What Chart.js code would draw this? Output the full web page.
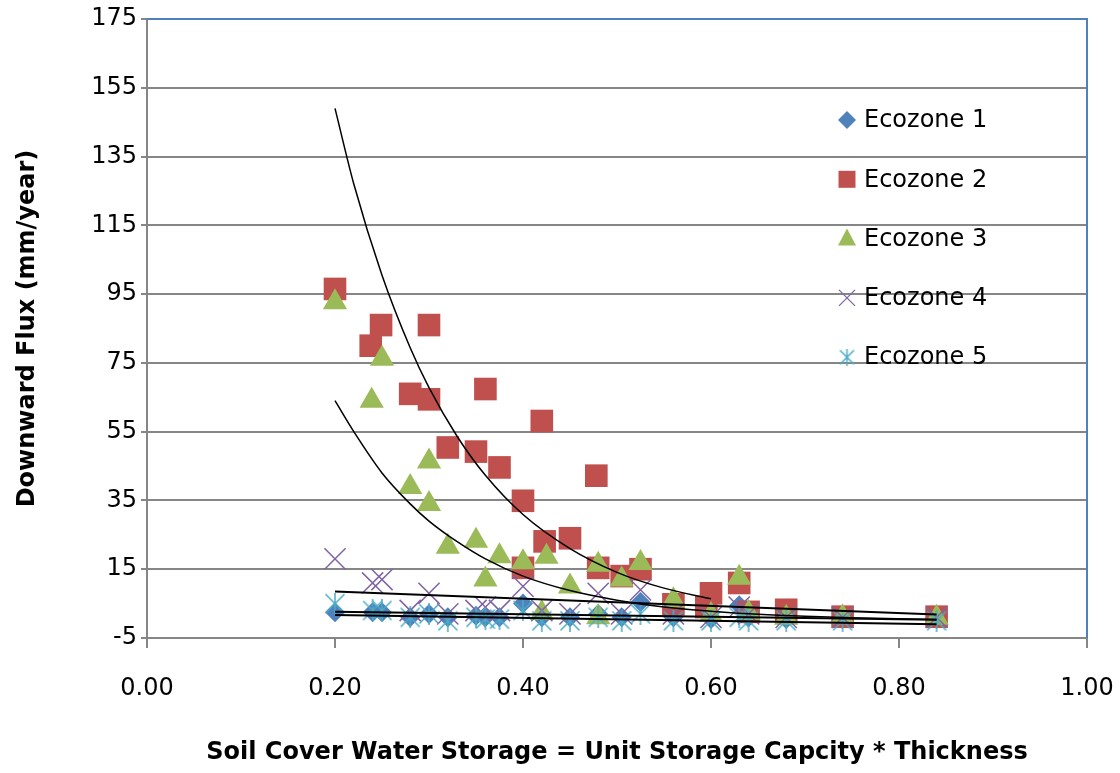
<!DOCTYPE html>
<html>
<head>
<meta charset="utf-8">
<title>Downward Flux vs Soil Cover Water Storage</title>
<script src="https://cdn.jsdelivr.net/npm/chart.js@4.4.1/dist/chart.umd.min.js"></script>
<style>
  html, body { margin: 0; padding: 0; background: #fff; }
  #wrap { width: 1120px; height: 773px; }
</style>
</head>
<body>
<div id="wrap"><canvas id="fluxChart" width="1120" height="773"></canvas></div>
<script>
// Số liệu
const seriesNames = ['Ecozone 1', 'Ecozone 2', 'Ecozone 3', 'Ecozone 4', 'Ecozone 5'];

// Ecozone 1, 4, 5 dùng chung các giá trị x
const sharedX = [0.20, 0.24, 0.25, 0.28, 0.30, 0.32, 0.35, 0.36, 0.375, 0.40, 0.42,
                 0.45, 0.48, 0.505, 0.525, 0.56, 0.60, 0.63, 0.64, 0.68, 0.74, 0.84];
const eco1Y = [2.5, 2.5, 2.5, 1, 2, 1, 1.5, 1, 1, 5, 1, 1, 2, 1, 5.5, 1, 0.5, 4.5, 1, 0.5, 0.5, 0.5];
const eco4Y = [18, 11, 12, 3, 8, 2, 3, 4, 3, 10, 3, 2, 8, 2, 9, 2, 1, 4, 2, 1, 1, 1];
const eco5Y = [5, 3, 3, 1, 2, 0, 1, 0.5, 0.5, 3, 0, 0, 1, 0, 2, 0, 0, 1, 0, 0, 0, 0];

const eco2X = [0.20, 0.238, 0.249, 0.28, 0.30, 0.30, 0.32, 0.35, 0.36, 0.375, 0.40, 0.40, 0.42, 0.423,
               0.45, 0.478, 0.48, 0.505, 0.525, 0.56, 0.60, 0.595, 0.63, 0.64, 0.68, 0.74, 0.84];
const eco2Y = [96.5, 80, 86, 66, 86, 64.4, 50.4, 49.2, 67.4, 44.6, 34.9, 15.4, 58.1, 23.1,
               24, 42.2, 15.4, 13, 15, 4.8, 8, 4, 11, 2.6, 3.2, 1.2, 1.2];

const eco3X = [0.20, 0.239, 0.25, 0.28, 0.30, 0.30, 0.32, 0.35, 0.36, 0.375, 0.40, 0.42, 0.425,
               0.45, 0.48, 0.48, 0.505, 0.525, 0.56, 0.60, 0.63, 0.64, 0.68, 0.74, 0.84];
const eco3Y = [92.6, 64, 76.2, 38.9, 46.3, 34, 21.5, 23.3, 12, 18.8, 17, 2.3, 18.6,
               10, 16.3, 1, 12, 16.8, 6, 1.7, 12.5, 2.3, 0.9, 1, 0.9];

// Đường xu hướng (đọc theo các điểm trên đường cong)
const trend2X = [0.20, 0.22, 0.25, 0.28, 0.30, 0.33, 0.36, 0.40, 0.45, 0.50, 0.55, 0.60];
const trend2Y = [149, 127, 100.5, 79.4, 67.8, 53.6, 42.3, 30.9, 21, 14.1, 9.5, 6.4];
const trend3X = [0.20, 0.22, 0.25, 0.28, 0.30, 0.33, 0.36, 0.40, 0.45, 0.50, 0.55, 0.60, 0.65, 0.70, 0.75, 0.84];
const trend3Y = [64, 55, 43, 34, 29, 23, 18, 13, 8.8, 6, 4, 2.8, 1.9, 1.3, 0.9, 0.4];
const trend1X = [0.20, 0.84];
const trend1Y = [2.6, 0.3];
const trend4X = [0.20, 0.84];
const trend4Y = [8.5, 1.8];
const trend5X = [0.20, 0.84];
const trend5Y = [1.7, -1.0];

const xTickValues = [0, 0.2, 0.4, 0.6, 0.8, 1.0];
const yTickValues = [-5, 15, 35, 55, 75, 95, 115, 135, 155, 175];

const colors = ['#4F81BD', '#C0504D', '#9BBB59', '#8064A2', '#4BACC6'];

function toPoints(xs, ys) {
    return xs.map((x, i) => ({ x: x, y: ys[i] }));
}

// Ký hiệu dấu sao (X + nét dọc) như Excel
function makeAsterisk(size, color) {
    const c = document.createElement('canvas');
    c.width = size;
    c.height = size;
    const g = c.getContext('2d');
    g.strokeStyle = color;
    g.lineWidth = 1.5;
    const m = 1.5, s = size - 1.5;
    g.beginPath();
    g.moveTo(m, m); g.lineTo(s, s);
    g.moveTo(s, m); g.lineTo(m, s);
    g.moveTo(size / 2, 0); g.lineTo(size / 2, size);
    g.stroke();
    return c;
}
const asteriskBig = makeAsterisk(22, colors[4]);
const asteriskSmall = makeAsterisk(17, colors[4]);

function trendSet(xs, ys, w) {
    return {
        label: 'trend',
        data: toPoints(xs, ys),
        showLine: true,
        borderColor: '#000',
        backgroundColor: '#000',
        borderWidth: w,
        pointRadius: 0,
        pointHoverRadius: 0,
        cubicInterpolationMode: 'monotone',
        order: 0
    };
}

// Chú giải vẽ tay bên trong vùng biểu đồ
function drawLegendMark(ctx, i, x, y) {
    ctx.save();
    ctx.fillStyle = colors[i];
    ctx.strokeStyle = colors[i];
    ctx.beginPath();
    if (i === 0) {
        ctx.moveTo(x, y - 9); ctx.lineTo(x + 9, y); ctx.lineTo(x, y + 9); ctx.lineTo(x - 9, y);
        ctx.closePath(); ctx.fill();
    } else if (i === 1) {
        ctx.rect(x - 8.5, y - 8.5, 17, 17); ctx.fill();
    } else if (i === 2) {
        ctx.moveTo(x, y - 10); ctx.lineTo(x + 9, y + 7); ctx.lineTo(x - 9, y + 7);
        ctx.closePath(); ctx.fill();
    } else if (i === 3) {
        ctx.lineWidth = 1.3;
        ctx.moveTo(x - 8, y - 8); ctx.lineTo(x + 8, y + 8);
        ctx.moveTo(x + 8, y - 8); ctx.lineTo(x - 8, y + 8);
        ctx.stroke();
    } else {
        ctx.drawImage(asteriskSmall, x - 8.5, y - 8.5);
    }
    ctx.restore();
}

const legendPlugin = {
    id: 'ecoLegend',
    afterDraw(chart) {
        const ctx = chart.ctx;
        ctx.save();
        ctx.font = '24px "DejaVu Sans"';
        ctx.fillStyle = '#000';
        ctx.textBaseline = 'middle';
        ctx.textAlign = 'left';
        seriesNames.forEach((name, i) => {
            const y = 120 + i * 59.3;
            drawLegendMark(ctx, i, 847, y);
            ctx.fillText(name, 864, y + 1);
        });
        ctx.restore();
    }
};

// Viền trên và phải của vùng vẽ (màu xanh)
const framePlugin = {
    id: 'plotFrame',
    beforeDatasetsDraw(chart) {
        const a = chart.chartArea;
        const ctx = chart.ctx;
        ctx.save();
        ctx.strokeStyle = '#4F81BD';
        ctx.lineWidth = 2;
        ctx.beginPath();
        ctx.moveTo(a.left, a.top);
        ctx.lineTo(a.right, a.top);
        ctx.lineTo(a.right, a.bottom);
        ctx.stroke();
        ctx.restore();
    }
};

Chart.defaults.font.family = '"DejaVu Sans", sans-serif';
Chart.defaults.font.size = 24;
Chart.defaults.color = '#000';

const ctx = document.getElementById('fluxChart').getContext('2d');
new Chart(ctx, {
    type: 'scatter',
    data: {
        datasets: [
            {
                label: seriesNames[0],
                data: toPoints(sharedX, eco1Y),
                pointStyle: 'rectRot',
                pointRadius: 10,
                pointHoverRadius: 10,
                backgroundColor: colors[0],
                borderColor: colors[0],
                borderWidth: 0,
                order: 5
            },
            {
                label: seriesNames[1],
                data: toPoints(eco2X, eco2Y),
                pointStyle: 'rect',
                pointRadius: 16,
                pointHoverRadius: 16,
                backgroundColor: colors[1],
                borderColor: colors[1],
                borderWidth: 0,
                order: 4
            },
            {
                label: seriesNames[2],
                data: toPoints(eco3X, eco3Y),
                pointStyle: 'triangle',
                pointRadius: 14,
                pointHoverRadius: 14,
                backgroundColor: colors[2],
                borderColor: colors[2],
                borderWidth: 0,
                order: 3
            },
            {
                label: seriesNames[3],
                data: toPoints(sharedX, eco4Y),
                pointStyle: 'crossRot',
                pointRadius: 15,
                pointHoverRadius: 15,
                backgroundColor: colors[3],
                borderColor: colors[3],
                borderWidth: 1.5,
                order: 2
            },
            {
                label: seriesNames[4],
                data: toPoints(sharedX, eco5Y),
                pointStyle: asteriskBig,
                pointRadius: 11,
                pointHoverRadius: 11,
                backgroundColor: colors[4],
                borderColor: colors[4],
                order: 1
            },
            trendSet(trend2X, trend2Y, 1.5),
            trendSet(trend3X, trend3Y, 1.5),
            trendSet(trend1X, trend1Y, 2),
            trendSet(trend4X, trend4Y, 2),
            trendSet(trend5X, trend5Y, 2)
        ]
    },
    options: {
        responsive: false,
        animation: false,
        layout: {
            padding: { top: 19, right: 33, left: 0, bottom: 0 }
        },
        plugins: {
            legend: { display: false },
            tooltip: { enabled: false }
        },
        scales: {
            x: {
                type: 'linear',
                min: 0,
                max: 1,
                afterBuildTicks: function (scale) {
                    scale.ticks = xTickValues.map(v => ({ value: v }));
                },
                afterFit: function (scale) {
                    scale.height = 135;
                    scale.paddingLeft = 0;
                    scale.paddingRight = 0;
                },
                ticks: {
                    padding: 26,
                    maxRotation: 0,
                    font: { size: 24 },
                    callback: function (value) {
                        return Number(value).toFixed(2);
                    }
                },
                grid: {
                    drawOnChartArea: false,
                    drawTicks: true,
                    tickLength: 10,
                    color: '#868686',
                    lineWidth: 2
                },
                border: { color: '#868686', width: 2 },
                title: {
                    display: true,
                    text: 'Soil Cover Water Storage = Unit Storage Capcity * Thickness',
                    font: { size: 24, weight: 'bold' },
                    padding: { top: 4, bottom: 6 }
                }
            },
            y: {
                type: 'linear',
                min: -5,
                max: 175,
                afterBuildTicks: function (scale) {
                    scale.ticks = yTickValues.map(v => ({ value: v }));
                },
                afterFit: function (scale) {
                    scale.width = 147;
                    scale.paddingTop = 0;
                    scale.paddingBottom = 0;
                },
                ticks: {
                    padding: 4,
                    font: { size: 24 }
                },
                grid: {
                    color: '#868686',
                    lineWidth: 2,
                    tickLength: 6
                },
                border: { color: '#868686', width: 2 },
                title: {
                    display: true,
                    text: 'Downward Flux (mm/year)',
                    font: { size: 24, weight: 'bold' },
                    padding: { top: 13, bottom: 4 }
                }
            }
        }
    },
    plugins: [framePlugin, legendPlugin]
});
</script>
</body>
</html>
